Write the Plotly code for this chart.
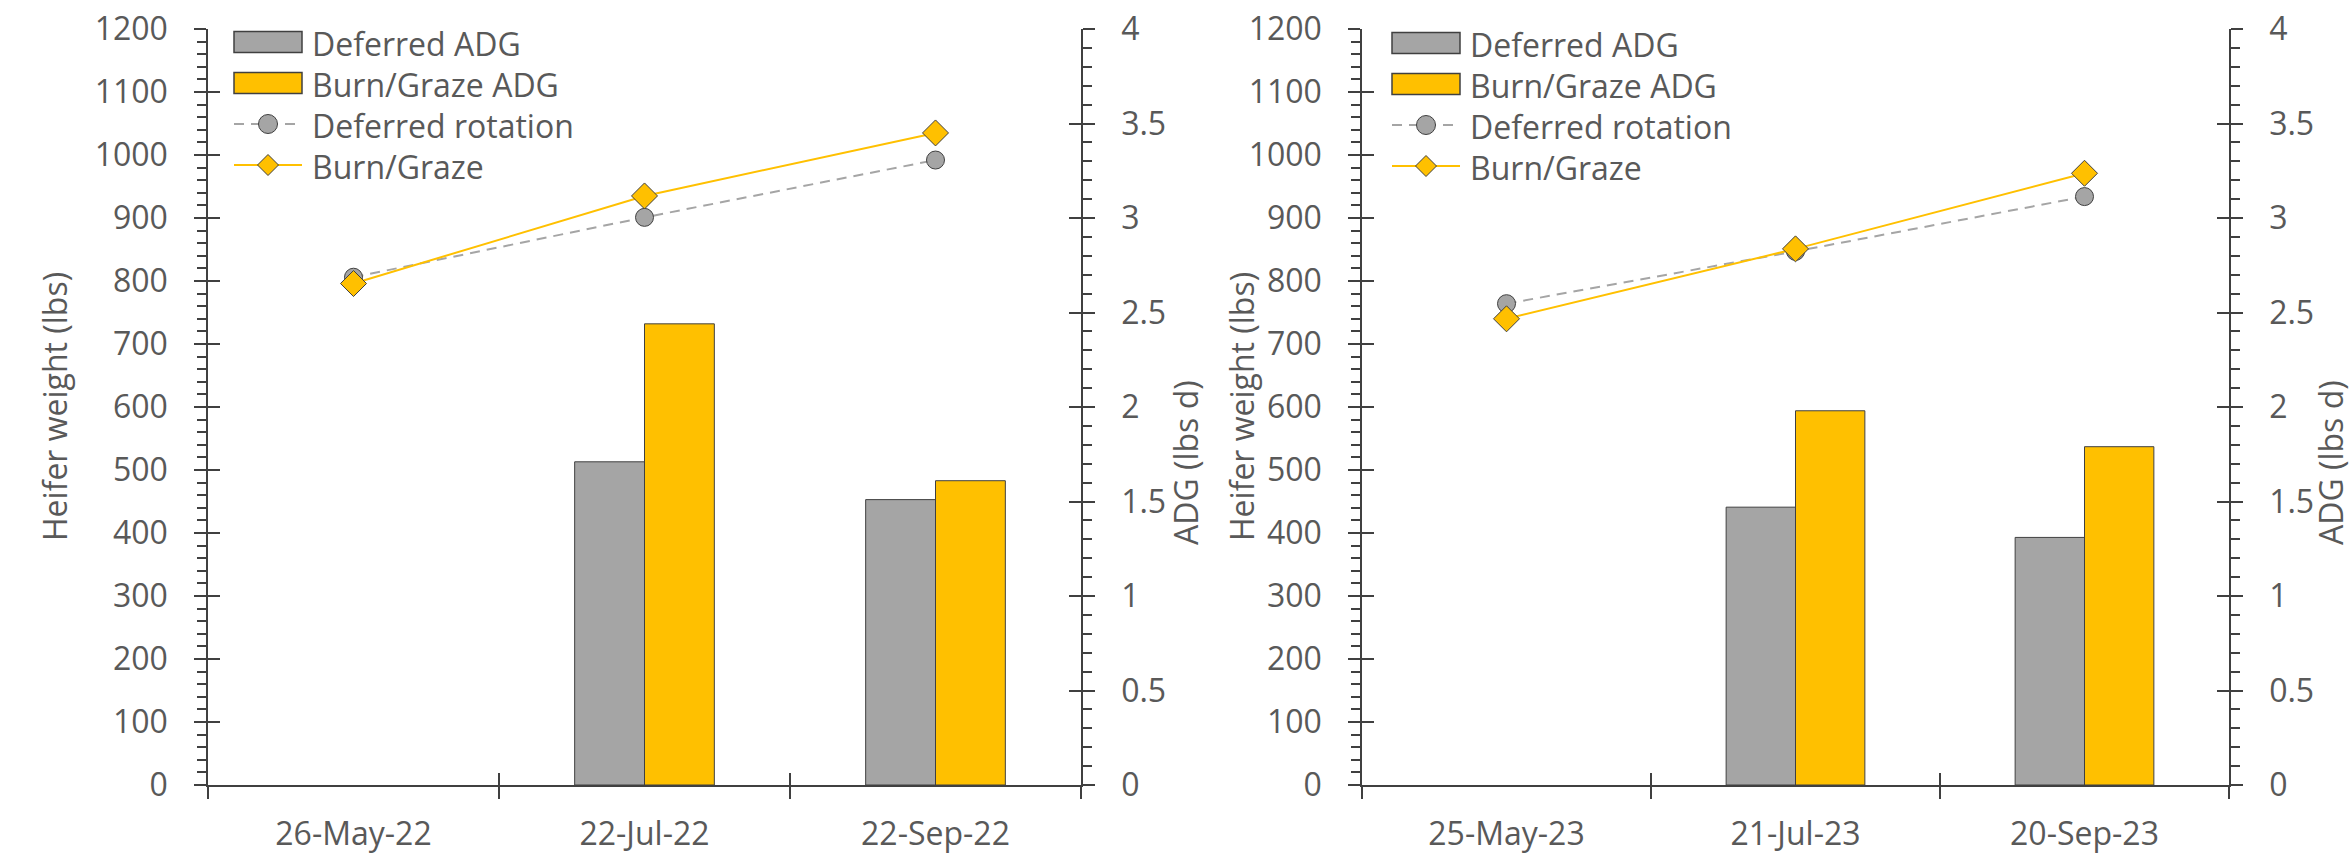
import plotly.graph_objects as go

# ---- data ----
dates_2022 = ["26-May-22", "22-Jul-22", "22-Sep-22"]
dates_2023 = ["25-May-23", "21-Jul-23", "20-Sep-23"]

deferred_wt_2022 = [806, 901, 992]
burn_wt_2022 = [796, 935, 1035]
deferred_adg_2022 = [None, 1.71, 1.51]
burn_adg_2022 = [None, 2.44, 1.61]

deferred_wt_2023 = [764, 847, 934]
burn_wt_2023 = [740, 851, 971]
deferred_adg_2023 = [None, 1.47, 1.31]
burn_adg_2023 = [None, 1.98, 1.79]

weight_range = [0, 1200]
adg_range = [0, 4]

legend_names = ["Deferred ADG", "Burn/Graze ADG", "Deferred rotation", "Burn/Graze"]

# ---- styling ----
W, H = 2352, 858
GRAY = "#A5A5A5"
GOLD = "#FFC000"
EDGE = "#404040"
TEXT = "#595959"
FONT = "'Open Sans', 'Noto Sans', sans-serif"
FS = 32


def px_x(v):
    # page pixel -> paper fraction
    return v / W


def px_y(v):
    return 1 - v / H


y_dom = [px_y(785), px_y(29)]
left_dom = [px_x(208), px_x(1081)]
right_dom = [px_x(1362), px_x(2229)]

fig = go.Figure()


def add_panel(dates, dwt, bwt, dadg, badg, xa, yw, yadg):
    fig.add_trace(go.Bar(
        x=dates, y=dadg, name=legend_names[0], xaxis=xa, yaxis=yadg,
        marker=dict(color=GRAY, line=dict(color=EDGE, width=1)),
    ))
    fig.add_trace(go.Bar(
        x=dates, y=badg, name=legend_names[1], xaxis=xa, yaxis=yadg,
        marker=dict(color=GOLD, line=dict(color=EDGE, width=1)),
    ))
    fig.add_trace(go.Scatter(
        x=dates, y=dwt, name=legend_names[2], xaxis=xa, yaxis=yw,
        mode="lines+markers",
        line=dict(color=GRAY, width=2, dash="10px,7px"),
        marker=dict(symbol="circle", size=18, color=GRAY, line=dict(color=EDGE, width=1)),
    ))
    fig.add_trace(go.Scatter(
        x=dates, y=bwt, name=legend_names[3], xaxis=xa, yaxis=yw,
        mode="lines+markers",
        line=dict(color=GOLD, width=2),
        marker=dict(symbol="diamond", size=20, color=GOLD, line=dict(color=EDGE, width=1)),
    ))


add_panel(dates_2022, deferred_wt_2022, burn_wt_2022, deferred_adg_2022, burn_adg_2022, "x", "y", "y2")
add_panel(dates_2023, deferred_wt_2023, burn_wt_2023, deferred_adg_2023, burn_adg_2023, "x2", "y3", "y4")

# empty traces so the overlay axes (inner half of the crossing ticks) get drawn
for xa, ya in [("x", "y5"), ("x", "y6"), ("x2", "y7"), ("x2", "y8"), ("x3", "y"), ("x4", "y3")]:
    fig.add_trace(go.Scatter(x=[], y=[], xaxis=xa, yaxis=ya, showlegend=False, hoverinfo="skip"))

tickfont = dict(family=FONT, size=FS, color=TEXT)
tick_style = dict(ticklen=12, tickwidth=1.5, tickcolor=EDGE, showgrid=False, zeroline=False, automargin=False)


def weight_axis(anchor):
    return dict(
        anchor=anchor, side="left", range=weight_range, dtick=100, ticks="outside",
        showline=True, linecolor=EDGE, linewidth=1.5, tickfont=tickfont, ticklabelstandoff=20,
        ticklabeloverflow="allow",
        minor=dict(dtick=20, ticks="outside", ticklen=9, tickwidth=1.5, tickcolor=EDGE, showgrid=False),
        **tick_style,
    )


def adg_axis(anchor, overlaying):
    return dict(
        anchor=anchor, side="right", overlaying=overlaying, range=adg_range, dtick=0.5, ticks="outside",
        showline=True, linecolor=EDGE, linewidth=1.5, tickfont=tickfont, ticklabelstandoff=20,
        ticklabeloverflow="allow",
        minor=dict(dtick=0.1, ticks="outside", ticklen=9, tickwidth=1.5, tickcolor=EDGE, showgrid=False),
        **tick_style,
    )


def inner_ticks(anchor, overlaying, side, rng, dtick):
    return dict(
        anchor=anchor, overlaying=overlaying, side=side, range=rng, dtick=dtick,
        ticks="inside", showline=False, showticklabels=False, **tick_style,
    )


def cat_axis(domain, anchor):
    return dict(
        domain=domain, anchor=anchor, type="category", tickson="boundaries", ticks="outside",
        showline=True, linecolor=EDGE, linewidth=1.5, tickfont=tickfont, ticklabelstandoff=20,
        ticklabeloverflow="allow",
        **tick_style,
    )


def cat_inner(anchor, overlaying):
    return dict(
        anchor=anchor, overlaying=overlaying, range=[-0.5, 2.5], tick0=-0.5, dtick=1,
        ticks="inside", showline=False, showticklabels=False, **tick_style,
    )


# ---- axis titles ----
annotations = []
shapes = []
for text, xpx, ypx in [
    ("Heifer weight (lbs)", 54, 407),
    ("ADG (lbs d)", 1185, 463),
    ("Heifer weight (lbs)", 1241, 407),
    ("ADG (lbs d)", 2330, 463),
]:
    annotations.append(dict(
        text=text, x=px_x(xpx), y=px_y(ypx), xref="paper", yref="paper",
        textangle=-90, showarrow=False, font=dict(family=FONT, size=FS, color=TEXT),
        xanchor="center", yanchor="middle",
    ))


# ---- legend drawn by hand so the swatches are as wide as in the original ----
def draw_legend(x0, rows):
    x1 = x0 + 68
    xm = (x0 + x1) / 2
    pr = dict(xref="paper", yref="paper")
    # bar swatches
    for (yc, color) in [(rows[0], GRAY), (rows[1], GOLD)]:
        shapes.append(dict(type="rect", x0=px_x(x0), x1=px_x(x1), y0=px_y(yc + 10.5), y1=px_y(yc - 10.5),
                           fillcolor=color, line=dict(color=EDGE, width=1.5), **pr))
    # deferred rotation swatch
    yc = rows[2]
    shapes.append(dict(type="line", x0=px_x(x0), x1=px_x(x1), y0=px_y(yc), y1=px_y(yc),
                       line=dict(color=GRAY, width=2, dash="10px,7px"), **pr))
    shapes.append(dict(type="circle", x0=px_x(xm - 9.5), x1=px_x(xm + 9.5), y0=px_y(yc + 9.5), y1=px_y(yc - 9.5),
                       fillcolor=GRAY, line=dict(color=EDGE, width=1), **pr))
    # burn/graze swatch
    yc = rows[3]
    shapes.append(dict(type="line", x0=px_x(x0), x1=px_x(x1), y0=px_y(yc), y1=px_y(yc),
                       line=dict(color=GOLD, width=2), **pr))
    d = 10.5
    path = "M{},{} L{},{} L{},{} L{},{} Z".format(
        px_x(xm), px_y(yc - d), px_x(xm + d), px_y(yc), px_x(xm), px_y(yc + d), px_x(xm - d), px_y(yc))
    shapes.append(dict(type="path", path=path, fillcolor=GOLD, line=dict(color=EDGE, width=1), **pr))
    for name, yc in zip(legend_names, rows):
        annotations.append(dict(
            text=name, x=px_x(x1 + 8), y=px_y(yc + 1), xref="paper", yref="paper",
            xanchor="left", yanchor="middle", showarrow=False,
            font=dict(family=FONT, size=FS, color=TEXT),
        ))


draw_legend(234, [42, 83, 124, 165])
draw_legend(1392, [43, 84, 125, 166])

fig.update_layout(
    template="none",
    width=W, height=H,
    margin=dict(l=0, r=0, t=0, b=0, autoexpand=False),
    paper_bgcolor="white", plot_bgcolor="white",
    font=dict(family=FONT, size=FS, color=TEXT),
    showlegend=False,
    barmode="group", bargap=0.52, bargroupgap=0,
    xaxis=cat_axis(left_dom, "y"),
    xaxis2=cat_axis(right_dom, "y3"),
    xaxis3=cat_inner("y", "x"),
    xaxis4=cat_inner("y3", "x2"),
    yaxis=dict(domain=y_dom, **weight_axis("x")),
    yaxis2=adg_axis("x", "y"),
    yaxis3=dict(domain=y_dom, **weight_axis("x2")),
    yaxis4=adg_axis("x2", "y3"),
    yaxis5=inner_ticks("x", "y", "left", weight_range, 100),
    yaxis6=inner_ticks("x", "y", "right", adg_range, 0.5),
    yaxis7=inner_ticks("x2", "y3", "left", weight_range, 100),
    yaxis8=inner_ticks("x2", "y3", "right", adg_range, 0.5),
    annotations=annotations,
    shapes=shapes,
)

# drop the default body margin so the figure sits at the page's top-left corner
fig.write_html(
    "out.html",
    config={"displayModeBar": False},
    post_script="document.body.style.margin='0';",
)
